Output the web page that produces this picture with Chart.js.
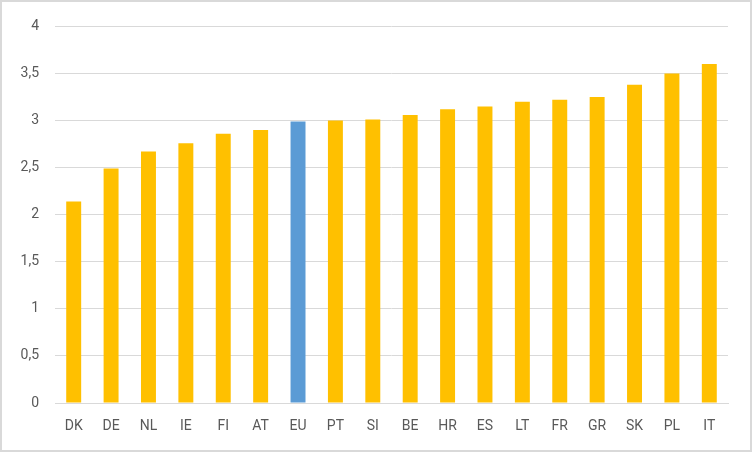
<!DOCTYPE html>
<html>
<head>
<meta charset="utf-8">
<script src="https://cdn.jsdelivr.net/npm/chart.js@4"></script>
<style>
  body { margin: 0; background: #fff; }
  #wrap { position: relative; width: 748px; height: 448px; border: 2px solid #d9d9d9; }
</style>
</head>
<body>
<div id="wrap"><canvas id="grafico"></canvas></div>
<script>
// paises y valores
const paises = ['DK','DE','NL','IE','FI','AT','EU','PT','SI','BE','HR','ES','LT','FR','GR','SK','PL','IT'];
const valores = [2.14, 2.49, 2.67, 2.76, 2.86, 2.90, 2.99, 3.00, 3.01, 3.06, 3.12, 3.15, 3.20, 3.22, 3.25, 3.38, 3.50, 3.60];
const destacado = 'EU';

const amarillo = '#FFC000';
const azul = '#5B9BD5';

const ctx = document.getElementById('grafico').getContext('2d');
new Chart(ctx, {
    type: 'bar',
    data: {
        labels: paises,
        datasets: [{
            data: valores,
            backgroundColor: paises.map(p => p === destacado ? azul : amarillo),
            barPercentage: 0.8,
            categoryPercentage: 0.5
        }]
    },
    options: {
        responsive: true,
        maintainAspectRatio: false,
        animation: false,
        layout: { padding: { top: 22, right: 22, bottom: 0, left: 0 } },
        plugins: { legend: { display: false }, tooltip: { enabled: false } },
        scales: {
            y: {
                min: 0,
                max: 4,
                ticks: {
                    stepSize: 0.5,
                    padding: 16,
                    color: '#595959',
                    font: { family: 'Roboto', size: 14 },
                    callback: v => String(v).replace('.', ',')
                },
                grid: { color: '#d9d9d9', drawTicks: false },
                border: { display: false },
                afterFit: s => { s.width = 53; }
            },
            x: {
                ticks: {
                    padding: 15,
                    color: '#595959',
                    font: { family: 'Roboto', size: 14 }
                },
                grid: { display: false, drawTicks: false },
                border: { color: '#d9d9d9' },
                afterFit: s => { s.height = 47; }
            }
        }
    }
});
</script>
</body>
</html>
